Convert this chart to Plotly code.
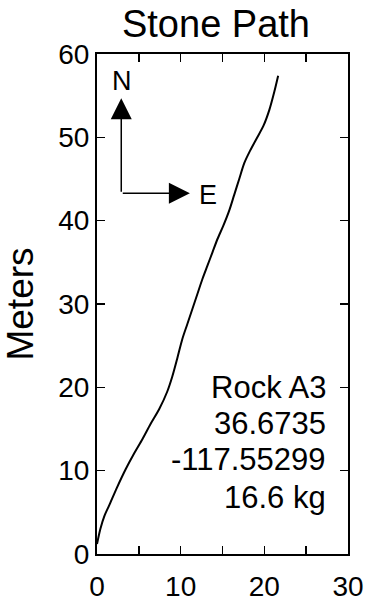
import plotly.graph_objects as go

# Path data (East meters, North meters)
east = [0.0, 0.4, 0.9, 1.44, 2.4, 3.44, 4.4, 5.44, 6.4, 7.44, 8.4, 9.0, 9.6, 10.2, 10.8, 11.4,
        12.0, 12.6, 13.2, 13.8, 14.4, 15.1, 15.8, 16.4, 17.0, 17.6, 18.3, 19.1, 19.9, 20.6, 21.2, 21.65]
north = [1.2, 3.0, 4.6, 5.8, 8.0, 10.2, 12.0, 13.8, 15.6, 17.4, 19.5, 21.3, 23.5, 25.8, 27.6, 29.4,
         31.2, 33.0, 34.6, 36.2, 37.8, 39.4, 41.2, 43.1, 45.0, 46.9, 48.4, 49.9, 51.4, 53.3, 55.5, 57.4]

info_lines = ["Rock A3", "36.6735", "-117.55299", "16.6 kg"]
info_y = [20.0, 15.7, 11.3, 6.8]
x_ticks = [0, 10, 20, 30]
y_ticks = [0, 10, 20, 30, 40, 50, 60]

FONT = "Liberation Sans, Arial, sans-serif"

fig = go.Figure()
fig.add_trace(go.Scatter(x=east, y=north, mode="lines",
                         line=dict(color="black", width=2, shape="spline", smoothing=0.8),
                         showlegend=False, hoverinfo="skip"))

axis_common = dict(showgrid=False, zeroline=False, showline=True, linecolor="black",
                   linewidth=2, ticks="inside", ticklen=8, tickwidth=1.5, tickcolor="black",
                   mirror="allticks", automargin=False,
                   tickfont=dict(family=FONT, size=28, color="black"))

fig.update_xaxes(range=[0, 30], tickvals=x_ticks, ticktext=[str(v) for v in x_ticks],
                 ticklabelstandoff=6,
                 minor=dict(dtick=5, tick0=0, ticks="inside", ticklen=8, tickwidth=1.5,
                            tickcolor="black", showgrid=False),
                 **axis_common)
fig.update_yaxes(range=[0, 60], tickvals=y_ticks, ticktext=[str(v) for v in y_ticks],
                 title=dict(text="Meters", font=dict(family=FONT, size=37, color="black"), standoff=14),
                 **axis_common)

annotations = []
for txt, yy in zip(info_lines, info_y):
    annotations.append(dict(x=27.6, y=yy, xref="x", yref="y", text=txt, showarrow=False,
                            xanchor="right", yanchor="middle",
                            font=dict(family=FONT, size=31, color="black")))
# Compass arrows
annotations.append(dict(x=2.9, y=54.7, ax=2.9, ay=43.3, xref="x", yref="y", axref="x", ayref="y",
                        text="", showarrow=True, arrowhead=2, arrowsize=2.8, arrowwidth=1.5,
                        arrowcolor="black"))
annotations.append(dict(x=11.1, y=43.3, ax=2.9, ay=43.3, xref="x", yref="y", axref="x", ayref="y",
                        text="", showarrow=True, arrowhead=2, arrowsize=2.8, arrowwidth=1.5,
                        arrowcolor="black"))
annotations.append(dict(x=3.0, y=56.8, xref="x", yref="y", text="N", showarrow=False,
                        xanchor="center", yanchor="middle",
                        font=dict(family=FONT, size=27, color="black")))
annotations.append(dict(x=13.3, y=43.1, xref="x", yref="y", text="E", showarrow=False,
                        xanchor="center", yanchor="middle",
                        font=dict(family=FONT, size=27, color="black")))

fig.update_layout(
    width=365, height=603,
    margin=dict(l=97, r=17, t=54, b=49),
    paper_bgcolor="white", plot_bgcolor="white",
    title=dict(text="Stone Path", x=216 / 365, xref="container", xanchor="center",
               y=1 - 24 / 603, yref="container", yanchor="middle",
               font=dict(family=FONT, size=38, color="black")),
    annotations=annotations,
)

fig.write_html("out.html", config={"displayModeBar": False, "staticPlot": True},
               post_script="document.body.style.margin='0';document.body.style.overflow='hidden';")
